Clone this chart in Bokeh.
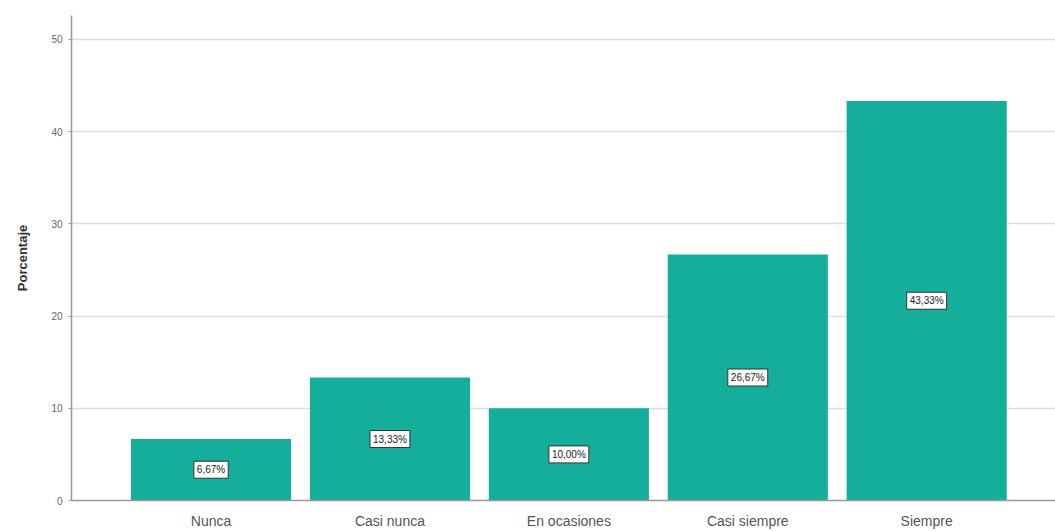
from bokeh.plotting import figure
from bokeh.models import ColumnDataSource, FixedTicker, Label, Range1d
from bokeh.embed import file_html
from bokeh.resources import INLINE

categories = ["Nunca", "Casi nunca", "En ocasiones", "Casi siempre", "Siempre"]
percentages = [6.67, 13.33, 10.00, 26.67, 43.33]
y_ticks = [0, 10, 20, 30, 40, 50]

xs = list(range(len(categories)))
labels = [f"{v:.2f}".replace(".", ",") + "%" for v in percentages]
mids = [v / 2 for v in percentages]

src = ColumnDataSource(dict(x=xs, top=percentages, mid=mids, label=labels))

p = figure(width=1055, height=531, output_backend="svg", toolbar_location=None,
           x_range=Range1d(-0.78, 4.72), y_range=Range1d(0, 52.6),
           min_border_left=71, min_border_right=0, min_border_top=15, min_border_bottom=30)
p.outline_line_color = None
p.background_fill_color = "white"
p.border_fill_color = "white"

p.vbar(x="x", top="top", width=0.895, source=src, color="#14AE9A", line_color=None)

for xi, yi, t in zip(xs, mids, labels):
    p.add_layout(Label(x=xi, y=yi, text=t, text_align="center",
                       text_baseline="middle", text_font_size="10px", text_color="#222222",
                       text_font="Liberation Sans",
                       background_fill_color="white", border_line_color="#333333",
                       border_line_width=1, padding=3))

p.xaxis.ticker = FixedTicker(ticks=xs)
p.xaxis.major_label_overrides = {i: c for i, c in enumerate(categories)}
p.xaxis.major_label_text_font_size = "14px"
p.xaxis.major_label_text_color = "#555555"
p.xaxis.major_label_text_font = "Liberation Sans"
p.xaxis.major_tick_line_color = None
p.xaxis.minor_tick_line_color = None
p.xaxis.axis_line_color = "#999999"
p.xaxis.axis_line_width = 1.5
p.xaxis.major_label_standoff = 6

p.yaxis.ticker = FixedTicker(ticks=y_ticks)
p.yaxis.major_label_text_font_size = "10px"
p.yaxis.major_label_text_color = "#666666"
p.yaxis.major_label_text_font = "Liberation Sans"
p.yaxis.axis_label = "Porcentaje"
p.yaxis.axis_label_text_font_size = "13px"
p.yaxis.axis_label_text_font_style = "bold"
p.yaxis.axis_label_text_color = "#333333"
p.yaxis.axis_label_text_font = "Liberation Sans"
p.yaxis.axis_line_color = "#999999"
p.yaxis.axis_line_width = 1.5
p.yaxis.major_tick_line_color = "#999999"
p.yaxis.major_tick_out = 3
p.yaxis.major_tick_in = 0
p.yaxis.minor_tick_line_color = None
p.yaxis.major_label_standoff = 6
p.yaxis.axis_label_standoff = 18

p.xgrid.grid_line_color = None
p.ygrid.grid_line_color = "#dddddd"
p.ygrid.grid_line_width = 1.5

open("out.html", "w").write(file_html(p, INLINE))
